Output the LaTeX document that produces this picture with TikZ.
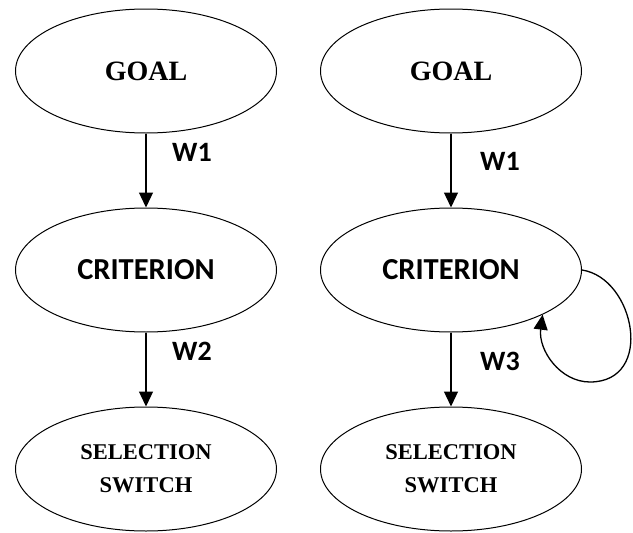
\documentclass[tikz,border=0pt]{standalone}
\usepackage{fontspec}
\setmainfont{Liberation Serif}
\newfontfamily\calib{Carlito}
\usetikzlibrary{shapes.geometric,arrows.meta}
\begin{document}
\begin{tikzpicture}[x=1pt,y=-1pt,
  oval/.style={ellipse,draw,line width=1pt,minimum width=261pt,minimum height=124pt,inner sep=0pt,align=center},
  serifbig/.style={font=\fontsize{28}{32}\selectfont\bfseries},
  serifsmall/.style={font=\fontsize{22.5}{33}\selectfont\bfseries},
  sansbig/.style={font=\calib\fontsize{30.5}{34}\selectfont\bfseries},
  wlabel/.style={font=\calib\fontsize{28}{32}\selectfont\bfseries,inner sep=0pt},
  arr/.style={line width=1.3pt,-{Triangle[width=14pt,length=15pt]}}]
\useasboundingbox (0,0) rectangle (633,533);
% left column
\node[oval,serifbig] (g1) at (146,71) {GOAL};
\node[oval,sansbig] (c1) at (146,270) {CRITERION};
\node[oval,serifsmall] (s1) at (146,469) {SELECTION\\SWITCH};
% right column
\node[oval,serifbig] (g2) at (451,71) {GOAL};
\node[oval,sansbig] (c2) at (451,270) {CRITERION};
\node[oval,serifsmall] (s2) at (451,469) {SELECTION\\SWITCH};
% arrows
\draw[arr] (g1) -- (c1);
\draw[arr] (c1) -- (s1);
\draw[arr] (g2) -- (c2);
\draw[arr] (c2) -- (s2);
% labels
\node[wlabel] (w1a) at (192,152) {W1};
\node[wlabel] (w2) at (192,351) {W2};
\node[wlabel] (w1b) at (500,161) {W1};
\node[wlabel] (w3) at (500,361) {W3};
% self loop
\coordinate (lb) at (590,382);
\draw[arr] (c2.east) .. controls (635,278) and (655,382) .. (lb)
  .. controls (560,382) and (538,350) .. (c2.-26);
\end{tikzpicture}
\end{document}
